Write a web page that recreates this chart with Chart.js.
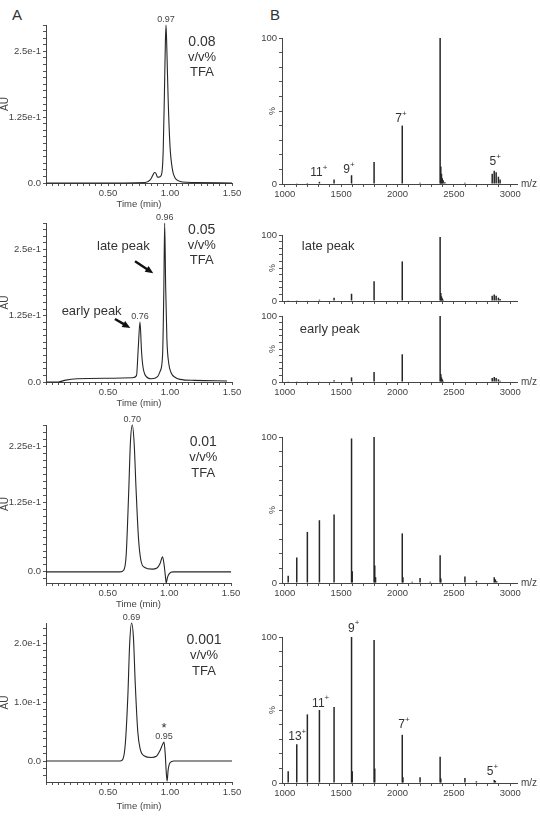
<!DOCTYPE html>
<html>
<head>
<meta charset="utf-8">
<script src="https://cdn.jsdelivr.net/npm/chart.js@4.4.1/dist/chart.umd.min.js"></script>
<style>
  body { margin: 0; background: #fff; }
  #page { position: relative; width: 540px; height: 821px; overflow: hidden; }
  #page canvas { position: absolute; left: 0; top: 0; }
  .panel { position: absolute; font: 15px 'Liberation Sans', Arial, sans-serif; color: #333; }
</style>
</head>
<body>
<div id="page">
  <div class="panel" style="left:12px;top:6px">A</div>
  <div class="panel" style="left:270px;top:6px">B</div>
</div>
<script>
const FONT = "'Liberation Sans', Arial, Helvetica, sans-serif";
Chart.defaults.font.family = FONT;
Chart.defaults.color = '#444';
Chart.defaults.animation = false;

// ---- A: UV chromatograms, time (min) vs absorbance (AU)
// 0.08 v/v% TFA
const tA1 = [0, 0.40, 0.80, 0.84, 0.86, 0.875, 0.885, 0.90, 0.92, 0.935, 0.945, 0.955, 0.963, 0.968, 0.975, 0.985, 1.00, 1.02, 1.04, 1.07, 1.10, 1.20, 1.50];
const auA1 = [0, 0, 0.001, 0.006, 0.014, 0.020, 0.019, 0.011, 0.012, 0.020, 0.06, 0.17, 0.27, 0.30, 0.25, 0.16, 0.07, 0.025, 0.01, 0.004, 0.002, 0.001, 0];
// 0.05 v/v% TFA
const tA2 = [0, 0.10, 0.15, 0.25, 0.50, 0.70, 0.73, 0.744, 0.758, 0.77, 0.78, 0.80, 0.85, 0.90, 0.92, 0.94, 0.95, 0.957, 0.965, 0.975, 0.99, 1.01, 1.04, 1.08, 1.20, 1.46];
const auA2 = [0, 0, 0.003, 0.006, 0.007, 0.008, 0.012, 0.064, 0.113, 0.06, 0.032, 0.013, 0.006, 0.010, 0.020, 0.05, 0.17, 0.30, 0.18, 0.08, 0.035, 0.017, 0.009, 0.005, 0.003, 0.002];
// 0.01 v/v% TFA
const tA3 = [0, 0.60, 0.63, 0.65, 0.67, 0.685, 0.70, 0.715, 0.73, 0.75, 0.77, 0.80, 0.86, 0.90, 0.925, 0.945, 0.958, 0.968, 0.975, 0.985, 1.00, 1.03, 1.50];
const auA3 = [0, 0, 0.003, 0.03, 0.14, 0.235, 0.264, 0.23, 0.15, 0.06, 0.02, 0.008, 0.005, 0.007, 0.015, 0.027, 0.012, -0.008, -0.02, -0.01, -0.003, 0, 0];
// 0.001 v/v% TFA
const tA4 = [0, 0.60, 0.62, 0.64, 0.66, 0.675, 0.69, 0.705, 0.72, 0.74, 0.76, 0.79, 0.85, 0.89, 0.92, 0.94, 0.952, 0.962, 0.97, 0.977, 0.985, 1.00, 1.03, 1.50];
const auA4 = [0, 0, 0.003, 0.03, 0.11, 0.20, 0.234, 0.21, 0.13, 0.05, 0.02, 0.009, 0.006, 0.008, 0.018, 0.028, 0.032, 0.01, -0.02, -0.034, -0.015, -0.003, 0, 0];

// ---- B: mass spectra, m/z vs relative intensity (%)
const mzB1 = [1030, 1106, 1200, 1307, 1437, 1592, 1792, 2042, 2200, 2378, 2384, 2390, 2397, 2405, 2420, 2598, 2840, 2858, 2875, 2895, 2910];
const pctB1 = [0.4, 0.5, 0.7, 1.5, 3, 6, 15, 40, 0.8, 100, 12, 7, 4, 2.5, 1.2, 0.8, 7, 9, 8, 5, 3];
const mzB2late = [1030, 1106, 1200, 1307, 1437, 1592, 1792, 2042, 2200, 2378, 2384, 2390, 2397, 2405, 2598, 2840, 2858, 2875, 2895, 2910];
const pctB2late = [0.3, 0.5, 0.6, 2, 5, 11, 30, 60, 0.8, 97, 12, 7, 4, 2, 0.8, 8, 10, 8, 5, 3];
const mzB2early = [1030, 1106, 1200, 1307, 1437, 1592, 1792, 2042, 2200, 2378, 2384, 2390, 2397, 2405, 2598, 2840, 2858, 2875, 2895, 2910];
const pctB2early = [0.3, 0.4, 0.5, 1, 2.5, 7, 15, 42, 0.6, 100, 12, 7, 4, 2, 0.6, 6, 7.5, 6, 4, 2];
const mzB3 = [1030, 1106, 1200, 1307, 1437, 1592, 1598, 1792, 1798, 1805, 2042, 2048, 2130, 2200, 2290, 2378, 2384, 2598, 2700, 2858, 2868, 2880];
const pctB3 = [5, 17.5, 35, 43, 47, 99, 8, 100, 12, 4, 34, 4, 0.8, 3.5, 0.8, 19, 3, 4.5, 1.5, 4, 2.5, 1.2];
const mzB4 = [1030, 1106, 1200, 1307, 1437, 1592, 1598, 1792, 1798, 2042, 2048, 2200, 2378, 2384, 2598, 2700, 2858, 2868];
const pctB4 = [8, 26.5, 47, 50, 52, 100, 8, 98, 10, 33, 4, 4, 18, 3, 3.5, 1.2, 2, 1.5];

// ---- tick labels
const timeTicks = [0.5, 1.0, 1.5];
const timeLabels = ['0.50', '1.00', '1.50'];
const auTicksA1 = [0, 0.125, 0.25];
const auLabelsA1 = ['0.0', '1.25e-1', '2.5e-1'];
const auTicksA3 = [0, 0.125, 0.225];
const auLabelsA3 = ['0.0', '1.25e-1', '2.25e-1'];
const auTicksA4 = [0, 0.1, 0.2];
const auLabelsA4 = ['0.0', '1.0e-1', '2.0e-1'];
const mzTicks = [1000, 1500, 2000, 2500, 3000];
const mzLabels = ['1000', '1500', '2000', '2500', '3000'];
const pctTicks = [0, 100];
const pctLabels = ['0', '100'];

const page = document.getElementById('page');

function newCanvas() {
  const c = document.createElement('canvas');
  c.width = 540;
  c.height = 821;
  page.appendChild(c);
  return c;
}

function pick(ticks, labels) {
  return v => {
    const i = ticks.findIndex(t => Math.abs(t - v) < 1e-6);
    return i < 0 ? '' : labels[i];
  };
}

// annotations, anchored in data coordinates
function notes(items) {
  return {
    id: 'notes',
    afterDatasetsDraw(chart) {
      const { ctx, chartArea, scales: { x, y } } = chart;
      ctx.save();
      items.forEach(it => {
        const px = it.x !== undefined ? x.getPixelForValue(it.x) : 0;
        const py = it.y !== undefined ? y.getPixelForValue(it.y) : 0;
        ctx.fillStyle = '#333';
        if (it.kind === 'peak') {
          ctx.font = '9px ' + FONT;
          ctx.fillStyle = '#444';
          ctx.textAlign = 'center';
          ctx.textBaseline = 'bottom';
          ctx.fillText(it.text, px, py - 1 + (it.dy || 0));
        } else if (it.kind === 'stack') {
          ctx.textAlign = 'center';
          ctx.textBaseline = 'middle';
          it.lines.forEach((s, k) => {
            ctx.font = (k === 0 ? 14 : 13) + 'px ' + FONT;
            ctx.fillText(s, px, py + k * 15.5);
          });
        } else if (it.kind === 'label') {
          ctx.font = (it.size || 13) + 'px ' + FONT;
          ctx.textAlign = it.align || 'center';
          ctx.textBaseline = 'middle';
          ctx.fillText(it.text, px, py);
        } else if (it.kind === 'charge') {
          ctx.textBaseline = 'middle';
          ctx.textAlign = 'left';
          ctx.font = '12px ' + FONT;
          const w1 = ctx.measureText(it.n).width;
          ctx.font = '8px ' + FONT;
          const w2 = ctx.measureText('+').width;
          const x0 = px - (w1 + w2) / 2;
          ctx.font = '12px ' + FONT;
          ctx.fillText(it.n, x0, py);
          ctx.font = '8px ' + FONT;
          ctx.fillText('+', x0 + w1, py - 5);
        } else if (it.kind === 'arrow') {
          const px2 = x.getPixelForValue(it.x2), py2 = y.getPixelForValue(it.y2);
          const a = Math.atan2(py2 - py, px2 - px);
          ctx.strokeStyle = '#111';
          ctx.fillStyle = '#111';
          ctx.lineWidth = 2.4;
          ctx.beginPath();
          ctx.moveTo(px, py);
          ctx.lineTo(px2 - 6 * Math.cos(a), py2 - 6 * Math.sin(a));
          ctx.stroke();
          ctx.beginPath();
          ctx.moveTo(px2, py2);
          ctx.lineTo(px2 - 8 * Math.cos(a) + 3.5 * Math.sin(a), py2 - 8 * Math.sin(a) - 3.5 * Math.cos(a));
          ctx.lineTo(px2 - 8 * Math.cos(a) - 3.5 * Math.sin(a), py2 - 8 * Math.sin(a) + 3.5 * Math.cos(a));
          ctx.closePath();
          ctx.fill();
        } else if (it.kind === 'mz') {
          ctx.font = '10px ' + FONT;
          ctx.fillStyle = '#444';
          ctx.textAlign = 'left';
          ctx.textBaseline = 'middle';
          ctx.fillText('m/z', chartArea.right + 4, chartArea.bottom);
        }
      });
      ctx.restore();
    }
  };
}

function chromatogram(cfg) {
  const yW = 46;
  const xH = cfg.xH || 27;
  const [l, t, r, b] = cfg.box;
  return new Chart(newCanvas(), {
    type: 'line',
    data: {
      datasets: [{
        data: cfg.t.map((v, i) => ({ x: v, y: cfg.au[i] })),
        borderColor: '#262626',
        borderWidth: 1.1,
        pointRadius: 0,
        cubicInterpolationMode: 'monotone',
        clip: false
      }]
    },
    options: {
      responsive: false,
      devicePixelRatio: 1,
      layout: { padding: { left: l - yW, top: t, right: 540 - r, bottom: 821 - b - xH } },
      plugins: { legend: { display: false }, tooltip: { enabled: false } },
      scales: {
        x: {
          type: 'linear', min: 0, max: 1.5,
          afterFit: s => { s.height = xH; },
          border: { color: '#444' },
          grid: { drawOnChartArea: false, tickLength: 3, color: '#555' },
          ticks: { stepSize: 0.05, includeBounds: false, autoSkip: false, maxRotation: 0, minRotation: 0, padding: 2,
                   font: { size: 9.5 }, color: '#444', callback: pick(timeTicks, timeLabels) },
          title: { display: true, text: 'Time (min)', font: { size: 9.5 }, color: '#444', padding: 0 }
        },
        y: {
          type: 'linear', min: cfg.ymin, max: cfg.ymax,
          afterFit: s => { s.width = yW; },
          border: { color: '#444' },
          grid: { drawOnChartArea: false, tickLength: 3, color: '#555' },
          ticks: { stepSize: 0.0125, includeBounds: false, autoSkip: false, padding: 2,
                   font: { size: 9.5 }, color: '#444', callback: pick(cfg.yTicks, cfg.yLabels) },
          title: { display: true, text: 'AU', font: { size: 10, lineHeight: 1 }, color: '#444', padding: { top: 0, bottom: 0 } }
        }
      }
    },
    plugins: [notes(cfg.notes)]
  });
}

function spectrum(cfg) {
  const yW = 28;
  const xH = 20;
  const [l, t, r, b] = cfg.box;
  return new Chart(newCanvas(), {
    type: 'bar',
    data: {
      datasets: [{
        data: cfg.mz.map((m, i) => ({ x: m, y: cfg.pct[i] })),
        backgroundColor: '#262626',
        borderWidth: 0,
        inflateAmount: 0,
        barThickness: 1.5
      }]
    },
    options: {
      responsive: false,
      devicePixelRatio: 1,
      layout: { padding: { left: l - yW, top: t, right: 540 - r, bottom: 821 - b - xH } },
      plugins: { legend: { display: false }, tooltip: { enabled: false } },
      scales: {
        x: {
          type: 'linear', min: 975, max: 3060, offset: false,
          afterFit: s => { s.height = xH; },
          border: { color: '#444' },
          grid: { offset: false, drawOnChartArea: false, tickLength: 3, color: '#555' },
          ticks: { stepSize: 100, includeBounds: false, autoSkip: false, maxRotation: 0, minRotation: 0, padding: 2,
                   font: { size: 9.5 }, color: '#444',
                   callback: cfg.noLabels ? () => '' : pick(mzTicks, mzLabels) }
        },
        y: {
          type: 'linear', min: 0, max: 100,
          afterFit: s => { s.width = yW; },
          border: { color: '#444' },
          grid: { drawOnChartArea: false, tickLength: 3, color: '#555' },
          ticks: { stepSize: 10, autoSkip: false, padding: 2,
                   font: { size: 9.5 }, color: '#444', callback: pick(pctTicks, pctLabels) },
          title: { display: true, text: '%', font: { size: 9, lineHeight: 1 }, color: '#444', padding: { top: 14.5, bottom: 0 } }
        }
      }
    },
    plugins: [notes(cfg.notes)]
  });
}

// ---- panel A
chromatogram({
  t: tA1, au: auA1, box: [46, 25, 232, 183], ymin: 0, ymax: 0.30,
  yTicks: auTicksA1, yLabels: auLabelsA1,
  notes: [
    { kind: 'peak', x: 0.968, y: 0.30, text: '0.97' },
    { kind: 'stack', x: 1.258, y: 0.268, lines: ['0.08', 'v/v%', 'TFA'] }
  ]
});
chromatogram({
  t: tA2, au: auA2, box: [46, 223, 232, 382], ymin: 0, ymax: 0.30,
  yTicks: auTicksA1, yLabels: auLabelsA1,
  notes: [
    { kind: 'peak', x: 0.957, y: 0.30, text: '0.96' },
    { kind: 'peak', x: 0.758, y: 0.113, text: '0.76' },
    { kind: 'stack', x: 1.256, y: 0.287, lines: ['0.05', 'v/v%', 'TFA'] },
    { kind: 'label', x: 0.624, y: 0.255, text: 'late peak' },
    { kind: 'label', x: 0.368, y: 0.1326, text: 'early peak' },
    { kind: 'arrow', x: 0.718, y: 0.228, x2: 0.865, y2: 0.205 },
    { kind: 'arrow', x: 0.556, y: 0.119, x2: 0.680, y2: 0.102 }
  ]
});
chromatogram({
  t: tA3, au: auA3, box: [46, 425, 231, 583], ymin: -0.02, ymax: 0.264,
  yTicks: auTicksA3, yLabels: auLabelsA3,
  notes: [
    { kind: 'peak', x: 0.70, y: 0.264, text: '0.70' },
    { kind: 'stack', x: 1.275, y: 0.233, lines: ['0.01', 'v/v%', 'TFA'] }
  ]
});
chromatogram({
  t: tA4, au: auA4, box: [46, 623, 232, 782], ymin: -0.0356, ymax: 0.234, xH: 30,
  yTicks: auTicksA4, yLabels: auLabelsA4,
  notes: [
    { kind: 'peak', x: 0.69, y: 0.234, text: '0.69' },
    { kind: 'peak', x: 0.952, y: 0.032, text: '0.95' },
    { kind: 'label', x: 0.952, y: 0.056, text: '*', size: 13 },
    { kind: 'stack', x: 1.274, y: 0.205, lines: ['0.001', 'v/v%', 'TFA'] }
  ]
});

// ---- panel B
spectrum({
  mz: mzB1, pct: pctB1, box: [282, 38, 517, 184],
  notes: [
    { kind: 'charge', x: 1302, y: 7.5, n: '11' },
    { kind: 'charge', x: 1569, y: 9.6, n: '9' },
    { kind: 'charge', x: 2031, y: 45, n: '7' },
    { kind: 'charge', x: 2866, y: 15, n: '5' },
    { kind: 'mz' }
  ]
});
spectrum({
  mz: mzB2late, pct: pctB2late, box: [282, 235, 517, 301], noLabels: true,
  notes: [{ kind: 'label', x: 1151, y: 82, text: 'late peak', align: 'left' }]
});
spectrum({
  mz: mzB2early, pct: pctB2early, box: [282, 316, 517, 382],
  notes: [
    { kind: 'label', x: 1133, y: 79, text: 'early peak', align: 'left' },
    { kind: 'mz' }
  ]
});
spectrum({
  mz: mzB3, pct: pctB3, box: [282, 437, 517, 583],
  notes: [{ kind: 'mz' }]
});
spectrum({
  mz: mzB4, pct: pctB4, box: [282, 637, 517, 783],
  notes: [
    { kind: 'charge', x: 1110, y: 31.7, n: '13' },
    { kind: 'charge', x: 1318, y: 54.6, n: '11' },
    { kind: 'charge', x: 1612, y: 106, n: '9' },
    { kind: 'charge', x: 2057, y: 40, n: '7' },
    { kind: 'charge', x: 2843, y: 7.7, n: '5' },
    { kind: 'mz' }
  ]
});
</script>
</body>
</html>
